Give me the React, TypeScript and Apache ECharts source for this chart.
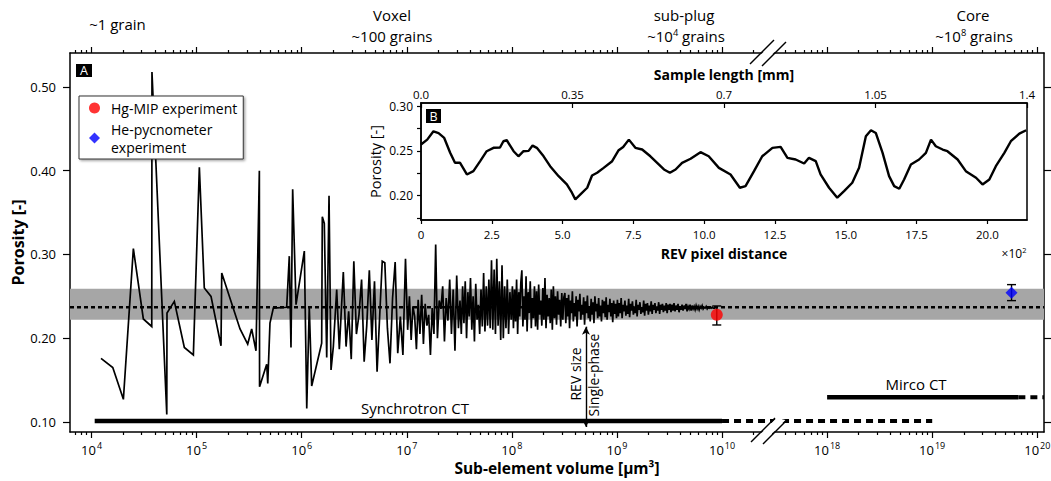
import React, { useEffect, useRef } from "react";
import * as echarts from "echarts";

const FONT = "'Open Sans', 'Noto Sans', sans-serif";

// ---------- Panel A : porosity vs sub-element volume (log10 of µm³) ----------
const sparseExp = [
  4.09, 4.202, 4.303, 4.398, 4.493, 4.573, 4.575, 4.716, 4.718, 4.788, 4.883, 4.969,
  5.026, 5.073, 5.137, 5.232, 5.239, 5.413, 5.486, 5.524, 5.565, 5.597, 5.599, 5.667,
  5.677, 5.698, 5.73, 5.857, 5.882, 5.898, 5.914, 5.946, 6.025, 6.048, 6.072, 6.095,
  6.19, 6.196, 6.215, 6.238, 6.26, 6.279, 6.301, 6.333, 6.358, 6.396,
];
const sparsePorosity = [
  0.176, 0.165, 0.127, 0.307, 0.223, 0.214, 0.518, 0.109, 0.23, 0.244, 0.189, 0.18,
  0.404, 0.26, 0.25, 0.191, 0.278, 0.211, 0.193, 0.211, 0.185, 0.4, 0.142, 0.169,
  0.146, 0.218, 0.236, 0.237, 0.298, 0.189, 0.378, 0.24, 0.304, 0.116, 0.238, 0.143,
  0.194, 0.345, 0.337, 0.177, 0.37, 0.162, 0.19, 0.258, 0.187, 0.279,
];
// dense part: readings listed per volume decade segment
const segmentBounds = [6.41, 7.0, 7.5, 8.0, 8.5, 9.0, 9.5, 9.94];
const segA = [
  0.19, 0.232, 0.175, 0.292, 0.205, 0.228, 0.27, 0.172, 0.215, 0.281, 0.198, 0.268,
  0.16, 0.226, 0.292, 0.29, 0.212, 0.17, 0.248, 0.291, 0.182, 0.226, 0.18, 0.295,
];
const segB = [
  0.21, 0.25, 0.198, 0.238, 0.226, 0.187, 0.246, 0.205, 0.252, 0.193, 0.241, 0.215,
  0.228, 0.18, 0.236, 0.205, 0.312, 0.2, 0.245, 0.235, 0.262, 0.196, 0.248, 0.221,
  0.27, 0.205, 0.258, 0.185, 0.275, 0.212,
];
const segC = [
  0.245, 0.205, 0.262, 0.218, 0.268, 0.2, 0.255, 0.226, 0.272, 0.21, 0.25, 0.196,
  0.265, 0.222, 0.24, 0.205, 0.258, 0.214, 0.278, 0.208, 0.262, 0.215, 0.27, 0.212,
  0.293, 0.21, 0.282, 0.205, 0.295, 0.215, 0.268, 0.198, 0.287, 0.2, 0.262, 0.212,
  0.27, 0.205, 0.255, 0.222,
];
const segD = [
  0.262, 0.212, 0.258, 0.22, 0.27, 0.205, 0.255, 0.226, 0.266, 0.281, 0.214, 0.25,
  0.222, 0.274, 0.208, 0.255, 0.23, 0.268, 0.212, 0.248, 0.224, 0.262, 0.214, 0.256,
  0.21, 0.264, 0.228, 0.245, 0.215, 0.26, 0.222, 0.272, 0.212, 0.252, 0.226, 0.248,
  0.218, 0.258, 0.21, 0.262, 0.224, 0.25, 0.216, 0.256, 0.228, 0.246, 0.214, 0.254,
  0.222, 0.249,
];
const segE = [
  0.254, 0.218, 0.248, 0.226, 0.252, 0.212, 0.245, 0.23, 0.256, 0.22, 0.242, 0.226,
  0.25, 0.214, 0.246, 0.232, 0.253, 0.222, 0.24, 0.228, 0.249, 0.216, 0.244, 0.23,
  0.251, 0.224, 0.238, 0.22, 0.247, 0.228, 0.243, 0.218, 0.25, 0.232, 0.241, 0.224,
  0.248, 0.226, 0.239, 0.22, 0.246, 0.23, 0.244, 0.225, 0.249, 0.222, 0.24, 0.231,
  0.247, 0.226, 0.242, 0.219, 0.245, 0.229, 0.241, 0.224,
];
const segF = [
  0.246, 0.226, 0.242, 0.23, 0.248, 0.224, 0.24, 0.232, 0.245, 0.227, 0.239, 0.229,
  0.247, 0.225, 0.241, 0.233, 0.244, 0.228, 0.238, 0.23, 0.246, 0.226, 0.24, 0.234,
  0.243, 0.229, 0.237, 0.231, 0.245, 0.227, 0.241, 0.233, 0.242, 0.228, 0.239, 0.232,
  0.244, 0.229, 0.24, 0.234, 0.242, 0.23, 0.238, 0.233, 0.243, 0.229, 0.24, 0.234,
  0.241, 0.231, 0.239, 0.233, 0.242, 0.23, 0.24, 0.234,
];
const segG = [
  0.241, 0.231, 0.24, 0.233, 0.242, 0.232, 0.239, 0.234, 0.241, 0.231, 0.238, 0.234,
  0.24, 0.233, 0.239, 0.235, 0.241, 0.232, 0.238, 0.235, 0.24, 0.233, 0.239, 0.235,
  0.238, 0.234, 0.239, 0.235, 0.238, 0.234, 0.238, 0.236, 0.239, 0.235, 0.237, 0.236,
  0.238, 0.235, 0.237, 0.236, 0.237, 0.236, 0.237, 0.236, 0.236, 0.236,
];
const denseSegments = [segA, segB, segC, segD, segE, segF, segG];

const meanPorosity = 0.237;
const bandRange = [0.222, 0.259];

const hgMip = { exp: 9.95, value: 0.228, err: [0.2158, 0.2385] };
const hePyc = { exp: 19.755, value: 0.2544, err: [0.2449, 0.264] };

const synchrotronExp = [4.03, 10, 19]; // solid to 1e10, dotted to 1e19
const synchrotronLevel = 0.101;
const microExp = [18, 19.82, 20.064]; // solid, then dotted
const microLevel = 0.1296;
const revExp = 8.705;
const revRange = [0.094, 0.2138];

const xTickExps = [4, 5, 6, 7, 8, 9, 10, 18, 19, 20];
const yTicks = [0.1, 0.2, 0.3, 0.4, 0.5];

// ---------- Panel B : porosity profile ----------
const insetDistance = [
  0.0, 0.22, 0.44, 0.62, 0.82, 1.03, 1.2, 1.38, 1.62, 1.85, 2.09, 2.32, 2.56, 2.79, 2.91,
  3.03, 3.27, 3.44, 3.62, 3.8, 3.94, 4.09, 4.33, 4.56, 4.86, 5.15, 5.33, 5.45, 5.63, 5.87,
  6.04, 6.22, 6.45, 6.75, 6.98, 7.14, 7.34, 7.57, 7.81, 8.1, 8.34, 8.58, 8.79, 8.99, 9.22,
  9.52, 9.87, 10.16, 10.52, 10.93, 11.26, 11.46, 11.76, 12.05, 12.41, 12.7, 12.94, 13.23,
  13.53, 13.7, 13.94, 14.11, 14.41, 14.7, 14.94, 15.23, 15.47, 15.71, 15.89, 16.06, 16.3,
  16.53, 16.71, 16.89, 17.06, 17.3, 17.59, 17.83, 18.01, 18.18, 18.42, 18.59, 18.95, 19.24,
  19.6, 19.83, 20.07, 20.3, 20.6, 20.83, 21.13, 21.37,
];
const insetPorosity = [
  0.2572, 0.2627, 0.272, 0.27, 0.2646, 0.248, 0.2367, 0.2367, 0.2236, 0.2273, 0.2385,
  0.2497, 0.2535, 0.2538, 0.2609, 0.262, 0.2497, 0.244, 0.2497, 0.2501, 0.256, 0.2535,
  0.244, 0.2329, 0.2217, 0.2124, 0.2031, 0.1956, 0.2012, 0.2087, 0.2225, 0.2255, 0.231,
  0.2385, 0.2508, 0.2545, 0.2627, 0.2535, 0.2516, 0.244, 0.2367, 0.2292, 0.2255, 0.2292,
  0.2367, 0.2412, 0.2486, 0.244, 0.231, 0.2236, 0.2087, 0.2105, 0.2273, 0.244, 0.2535,
  0.2546, 0.2423, 0.2404, 0.2359, 0.2423, 0.2385, 0.2236, 0.2087, 0.1975, 0.2049, 0.2143,
  0.231, 0.2664, 0.2732, 0.2702, 0.2479, 0.2217, 0.2105, 0.2076, 0.218, 0.2348, 0.2404,
  0.2479, 0.2627, 0.2553, 0.2516, 0.2497, 0.2404, 0.2273, 0.2199, 0.2124, 0.218, 0.2329,
  0.2479, 0.2609, 0.2694, 0.2732,
];
const lengthTicks = [0, 0.35, 0.7, 1.05, 1.4];
const insetYTicks = [0.175, 0.2, 0.225, 0.25, 0.275, 0.3];
const insetYLabels = [0.2, 0.25, 0.3];

// ---------- broken log axis helpers ----------
const BREAK_AT = 10.5;
const BREAK_SHIFT = 7; // 10^17.5 drawn right after 10^10.5
const toVis = (e: number) => (e > BREAK_AT ? e - BREAK_SHIFT : e);
const fromVis = (u: number) => (u > BREAK_AT + 0.001 ? u + BREAK_SHIFT : u);
const X_MIN = 3.795;
const X_MAX = toVis(20.064);

const majorVis = xTickExps.map(toVis);
const minorVis: number[] = [];
for (let e = 3; e <= 20; e++) {
  for (let k = 2; k <= 9; k++) {
    const ex = e + Math.log10(k);
    if (ex > BREAK_AT && ex < BREAK_AT + BREAK_SHIFT) continue;
    const u = toVis(ex);
    if (u > X_MIN && u < X_MAX) minorVis.push(u);
  }
}

function buildMain() {
  const out: number[][] = [];
  sparseExp.forEach((e, i) => out.push([toVis(e), sparsePorosity[i]]));
  denseSegments.forEach((vals, s) => {
    const a = segmentBounds[s];
    const b = segmentBounds[s + 1];
    vals.forEach((v, i) => out.push([a + ((b - a) * (i + 0.5)) / vals.length, v]));
  });
  return out;
}

const black = "#000";
const supRich = {
  b: { fontSize: 13, fontFamily: FONT, color: black, verticalAlign: "bottom" },
  s: { fontSize: 9, fontFamily: FONT, color: black, verticalAlign: "bottom", padding: [0, 0, 6, 1] },
};
const gRich = (size: number) => ({
  a: { fontSize: size, fontFamily: FONT, fill: black, verticalAlign: "bottom" },
  s: { fontSize: size * 0.62, fontFamily: FONT, fill: black, verticalAlign: "bottom", padding: [0, 0, size * 0.45, 0] },
});

function txt(x: number, y: number, text: string, size = 15, extra: any = {}) {
  return {
    type: "text",
    x,
    y,
    z: 60,
    style: { text, fontSize: size, fontFamily: FONT, fill: black, align: "center", verticalAlign: "middle", ...extra },
  };
}

function breakMark(x1: number, y1: number, x2: number, y2: number, dx: number) {
  return [
    {
      type: "polygon",
      z: 70,
      shape: { points: [[x1 + 1.5, y1], [x2 + 1.5, y2], [x2 + dx - 1.5, y2 + 2], [x1 + dx - 1.5, y1 + 2]] },
      style: { fill: "#fff" },
    },
    { type: "line", z: 71, shape: { x1, y1, x2, y2 }, style: { stroke: black, lineWidth: 1.5 } },
    { type: "line", z: 71, shape: { x1: x1 + dx, y1: y1 + 2, x2: x2 + dx, y2: y2 + 2 }, style: { stroke: black, lineWidth: 1.5 } },
  ];
}

function buildOption() {
  const axisLine = { onZero: false, lineStyle: { color: black, width: 1.5 } };
  const tickStyle = { color: black, width: 1.2 };
  const mainX = (position: string, ticks: number[], len: number, showLine: boolean, label: any) => ({
    gridIndex: 0,
    type: "value",
    position,
    min: X_MIN,
    max: X_MAX,
    splitLine: { show: false },
    axisLine: { ...axisLine, show: showLine },
    axisTick: { customValues: ticks, length: len, lineStyle: tickStyle },
    axisLabel: label,
  });
  const mainY = (position: string, label: any, name?: string) => ({
    gridIndex: 0,
    type: "value",
    position,
    min: 0.088,
    max: 0.5406,
    splitLine: { show: false },
    axisLine: axisLine,
    axisTick: { customValues: yTicks, length: 7, lineStyle: tickStyle },
    axisLabel: label,
    name,
    nameLocation: "middle",
    nameGap: 44,
    nameMoveOverlap: false,
    nameTextStyle: { fontFamily: FONT, fontWeight: "bold", fontSize: 16, color: black },
  });

  return {
    animation: false,
    backgroundColor: "#fff",
    textStyle: { fontFamily: FONT, color: black },
    grid: [
      { left: 70, right: 7, top: 53, bottom: 49, outerBoundsMode: "none" },
      {
        left: 421, right: 24, top: 103, bottom: 261, outerBoundsMode: "none",
        show: true, backgroundColor: "#fff", borderColor: black, borderWidth: 1.5,
      },
    ],
    legend: {
      orient: "vertical",
      left: 79,
      top: 96,
      padding: [3, 6, 3, 10],
      itemGap: 3,
      itemWidth: 11,
      itemHeight: 11,
      selectedMode: false,
      backgroundColor: "#fff",
      borderColor: "#333",
      borderWidth: 1,
      borderRadius: 0,
      shadowColor: "rgba(0,0,0,0.35)",
      shadowBlur: 2,
      shadowOffsetX: 1.5,
      shadowOffsetY: 1.5,
      textStyle: { fontFamily: FONT, fontSize: 14, lineHeight: 18, color: black, padding: [0, 0, 0, 6] },
      data: [
        { name: "Hg-MIP experiment", icon: "circle" },
        { name: "He-pycnometer\nexperiment", icon: "diamond" },
      ],
    },
    xAxis: [
      {
        ...mainX("bottom", majorVis, 6, true, {
          customValues: majorVis,
          margin: 9,
          formatter: (u: number) => `{b|10}{s|${Math.round(fromVis(u))}}`,
          rich: supRich,
        }),
        name: "Sub-element volume [µm³]",
        nameLocation: "middle",
        nameGap: 28,
        nameMoveOverlap: false,
        nameTextStyle: { fontFamily: FONT, fontWeight: "bold", fontSize: 15.5, color: black },
      },
      mainX("bottom", minorVis, 3, false, { show: false }),
      mainX("top", majorVis, 6, true, { show: false }),
      mainX("top", minorVis, 3, false, { show: false }),
      {
        gridIndex: 1,
        type: "value",
        position: "bottom",
        min: 0,
        max: 21.4,
        interval: 2.5,
        splitLine: { show: false },
        axisLine,
        axisTick: { length: 4, lineStyle: tickStyle },
        axisLabel: {
          fontSize: 11.5, color: black, margin: 8, showMaxLabel: false,
          formatter: (v: number) => (v === 0 ? "0" : v.toFixed(1)),
        },
        name: "REV pixel distance",
        nameLocation: "middle",
        nameGap: 26,
        nameMoveOverlap: false,
        nameTextStyle: { fontFamily: FONT, fontWeight: "bold", fontSize: 14, color: black },
      },
      {
        gridIndex: 1,
        type: "value",
        position: "top",
        min: 0,
        max: 1.4,
        splitLine: { show: false },
        axisLine,
        axisTick: { customValues: lengthTicks, inside: true, length: 5, lineStyle: tickStyle },
        axisLabel: {
          customValues: lengthTicks, fontSize: 11.5, color: black, margin: 3,
          formatter: (v: number) => (v === 0 ? "0.0" : String(v)),
        },
        name: "Sample length [mm]",
        nameLocation: "middle",
        nameGap: 22,
        nameMoveOverlap: false,
        nameTextStyle: { fontFamily: FONT, fontWeight: "bold", fontSize: 14, color: black },
      },
    ],
    yAxis: [
      mainY("left", {
        customValues: yTicks, margin: 14, fontSize: 13, color: black,
        formatter: (v: number) => v.toFixed(2),
      }, "Porosity [-]"),
      mainY("right", { show: false }),
      {
        gridIndex: 1,
        type: "value",
        position: "left",
        min: 0.1725,
        max: 0.3038,
        splitLine: { show: false },
        axisLine,
        axisTick: { customValues: insetYTicks, length: 4, lineStyle: tickStyle },
        axisLabel: {
          customValues: insetYLabels, margin: 8, fontSize: 12, color: black,
          formatter: (v: number) => v.toFixed(2),
        },
        name: "Porosity [-]",
        nameLocation: "middle",
        nameGap: 38,
        nameMoveOverlap: false,
        nameTextStyle: { fontFamily: FONT, fontSize: 14.5, color: black },
      },
    ],
    series: [
      {
        name: "band",
        type: "line",
        xAxisIndex: 0,
        yAxisIndex: 0,
        data: [[X_MIN, meanPorosity], [X_MAX, meanPorosity]],
        symbol: "none",
        lineStyle: { opacity: 0 },
        silent: true,
        markArea: {
          silent: true,
          itemStyle: { color: "#a6a6a6" },
          data: [[{ yAxis: bandRange[0] }, { yAxis: bandRange[1] }]],
        },
      },
      {
        name: "mean",
        type: "line",
        xAxisIndex: 0,
        yAxisIndex: 0,
        data: [[X_MIN, meanPorosity], [X_MAX, meanPorosity]],
        symbol: "none",
        silent: true,
        lineStyle: { color: black, width: 2.4, type: [4, 3] },
        z: 2,
      },
      {
        name: "porosity",
        type: "line",
        xAxisIndex: 0,
        yAxisIndex: 0,
        data: buildMain(),
        symbol: "none",
        silent: true,
        lineStyle: { color: black, width: 1.7, join: "miter" },
        z: 3,
      },
      {
        name: "synchrotron",
        type: "line",
        data: [[toVis(synchrotronExp[0]), synchrotronLevel], [toVis(synchrotronExp[1]), synchrotronLevel]],
        symbol: "none",
        silent: true,
        lineStyle: { color: black, width: 4.5 },
        z: 3,
        markLine: {
          silent: true,
          symbol: ["arrow", "arrow"],
          symbolSize: [6, 8],
          label: { show: false },
          lineStyle: { color: black, width: 1.4, type: "solid" },
          data: [[{ coord: [toVis(revExp), revRange[1]] }, { coord: [toVis(revExp), revRange[0]] }]],
        },
      },
      {
        name: "synchrotron-ext",
        type: "line",
        data: [[toVis(synchrotronExp[1]), synchrotronLevel], [toVis(synchrotronExp[2]), synchrotronLevel]],
        symbol: "none",
        silent: true,
        lineStyle: { color: black, width: 4, type: [7, 5] },
        z: 3,
      },
      {
        name: "micro",
        type: "line",
        data: [[toVis(microExp[0]), microLevel], [toVis(microExp[1]), microLevel]],
        symbol: "none",
        silent: true,
        lineStyle: { color: black, width: 4.5 },
        z: 3,
      },
      {
        name: "micro-ext",
        type: "line",
        data: [[toVis(microExp[1]), microLevel], [toVis(microExp[2]), microLevel]],
        symbol: "none",
        silent: true,
        lineStyle: { color: black, width: 4, type: [7, 5] },
        z: 3,
      },
      {
        name: "errors",
        type: "custom",
        xAxisIndex: 0,
        yAxisIndex: 0,
        silent: true,
        z: 4,
        data: [
          [toVis(hgMip.exp), hgMip.err[0], hgMip.err[1]],
          [toVis(hePyc.exp), hePyc.err[0], hePyc.err[1]],
        ],
        renderItem: (_p: any, api: any) => {
          const x = api.value(0);
          const top = api.coord([x, api.value(2)]);
          const bot = api.coord([x, api.value(1)]);
          const w = 4.5;
          const st = { stroke: black, lineWidth: 1.4 };
          return {
            type: "group",
            children: [
              { type: "line", shape: { x1: top[0], y1: top[1], x2: bot[0], y2: bot[1] }, style: st },
              { type: "line", shape: { x1: top[0] - w, y1: top[1], x2: top[0] + w, y2: top[1] }, style: st },
              { type: "line", shape: { x1: bot[0] - w, y1: bot[1], x2: bot[0] + w, y2: bot[1] }, style: st },
            ],
          };
        },
      },
      {
        name: "Hg-MIP experiment",
        type: "scatter",
        data: [[toVis(hgMip.exp), hgMip.value]],
        symbol: "circle",
        symbolSize: 12,
        itemStyle: { color: "#ff0000" },
        silent: true,
        z: 5,
      },
      {
        name: "He-pycnometer\nexperiment",
        type: "scatter",
        data: [[toVis(hePyc.exp), hePyc.value]],
        symbol: "diamond",
        symbolSize: 12,
        itemStyle: { color: "#0000ff" },
        silent: true,
        z: 5,
      },
      {
        name: "profile",
        type: "line",
        xAxisIndex: 4,
        yAxisIndex: 2,
        data: insetDistance.map((d, i) => [d, insetPorosity[i]]),
        symbol: "none",
        silent: true,
        lineStyle: { color: black, width: 2.4 },
        z: 6,
      },
    ],
    graphic: [
      { type: "rect", z: 60, shape: { x: 76, y: 64, width: 16, height: 13 }, style: { fill: black } },
      txt(84, 70.8, "A", 12.5, { fill: "#fff" }),
      { type: "rect", z: 60, shape: { x: 426, y: 109, width: 15, height: 14 }, style: { fill: black } },
      txt(433.5, 116.2, "B", 12.5, { fill: "#fff" }),
      txt(117.5, 24, "~1 grain"),
      txt(392, 15, "Voxel"),
      txt(392, 36, "~100 grains"),
      txt(684, 15, "sub-plug"),
      txt(686, 36, "{a|~10}{s|4}{a| grains}", 15, { rich: gRich(15) }),
      txt(973, 15, "Core"),
      txt(974, 36, "{a|~10}{s|8}{a| grains}", 15, { rich: gRich(15) }),
      txt(415, 408, "Synchrotron CT"),
      txt(916, 384, "Mirco CT"),
      { ...txt(575.5, 374, "REV size", 14), rotation: Math.PI / 2 },
      { ...txt(593.5, 375, "Single-phase", 14), rotation: Math.PI / 2 },
      txt(1014, 253, "{a|×10}{s|2}", 12, { rich: gRich(12) }),
      ...breakMark(750, 64, 774, 40, 12),
      ...breakMark(751, 442, 775, 418, 12),
    ],
  };
}

export default function App() {
  const ref = useRef<HTMLDivElement>(null);
  useEffect(() => {
    if (!ref.current) return;
    const chart = echarts.init(ref.current, null, { renderer: "svg" });
    chart.setOption(buildOption() as any);
    return () => chart.dispose();
  }, []);
  return (
    <div
      ref={ref}
      style={{ position: "absolute", left: 0, top: 0, width: 1051, height: 481, background: "#fff" }}
    />
  );
}
